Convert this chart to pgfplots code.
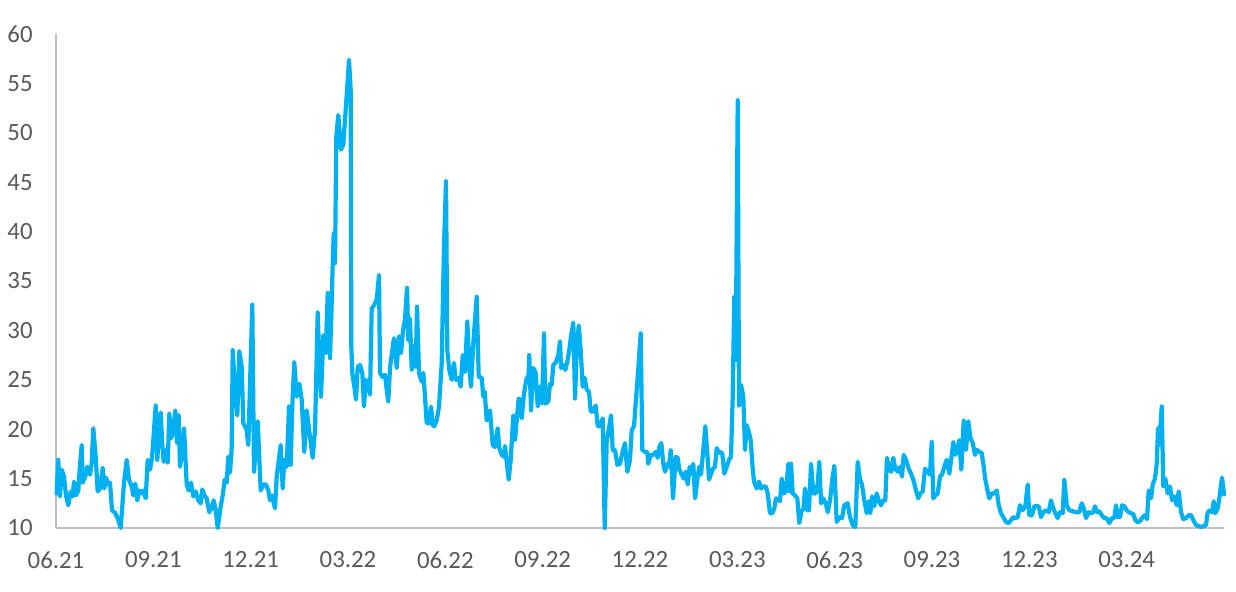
\documentclass[border=0pt]{standalone}
\usepackage{pgfplots}
\pgfplotsset{compat=1.18}
\usepackage{fontspec}
\setmainfont{Carlito}
\definecolor{lineblue}{HTML}{00B0F0}
\definecolor{axgray}{HTML}{BFBFBF}
\definecolor{txtgray}{HTML}{595959}
\begin{document}
\begin{tikzpicture}
\useasboundingbox (0,0) rectangle (618pt,295.5pt);
\begin{axis}[
  at={(28pt,31.5pt)}, anchor=south west,
  scale only axis, width=584pt, height=247pt,
  xmin=56, xmax=1224, ymin=10, ymax=60,
  axis x line=bottom, axis y line=left,
  axis line style={-, draw=axgray, line width=0.75pt},
  xtick={56,153.33,250.67,348,445.33,542.67,640,737.33,834.67,932,1029.33,1126.67},
  xticklabels={06.21,09.21,12.21,03.22,06.22,09.22,12.22,03.23,06.23,09.23,12.23,03.24},
  ytick={10,15,...,60},
  major tick length=0pt,
  tick label style={font=\fontsize{12.4}{14}\selectfont, text=txtgray},
  /pgf/number format/assume math mode=true,
  xticklabel style={anchor=north, inner sep=0pt, yshift=-11.5pt},
  yticklabel style={anchor=east, inner sep=0pt, xshift=-11.5pt},
  clip=false,
]
\addplot[lineblue, line width=2.1pt, line join=round, line cap=round, mark=none] table {
x y
56.7 13.5
58.3 16.9
60 13.2
61.7 15.9
64 15.2
66 13.3
68.3 12.3
70.7 13.7
72.7 13.2
74 14.7
76 13.3
78.3 13.8
80 16.4
81.7 18.4
82.7 14.6
85 15.1
87.3 16.2
90 15.4
91.7 16.6
93.3 20.1
95.7 17.2
97.7 13.7
100 14.0
102.7 16.1
104.3 14.0
106 15.1
108.3 14.4
110 14.6
112 11.8
115.3 11.5
118.3 10.8
120.7 10.0
124 14.6
126.7 16.9
129 14.9
131.7 14.2
133.3 13.3
135.3 14.5
137.3 12.8
139.3 13.8
141.7 13.5
143.3 13.8
145.7 13.0
147.7 16.9
150 15.9
152 17.1
154 19.9
155.7 22.4
157.3 16.9
159 19.9
160.7 21.7
162.3 18.4
163.7 16.7
165.7 17.9
167.7 16.6
169.3 21.6
171.3 19.1
173.3 19.9
175.3 21.9
177 18.6
178.7 21.4
180 16.2
182 17.6
184 20.1
186.7 14.4
188.7 13.8
191 14.6
193.3 13.2
195.7 13.7
198.3 12.8
200.7 12.5
202.3 13.9
204.3 13.3
206.7 13.0
209.3 11.6
211.7 12.0
213.7 12.8
215.7 11.8
217.7 10.0
220.7 12.2
222.7 13.3
224.7 14.9
226.7 14.6
228.3 17.2
230 15.6
231.7 18.1
232.7 28.0
235 24.0
237.3 21.4
239.3 27.9
241.7 26.3
243.3 20.6
246.7 19.9
248.3 18.4
252.3 32.6
254 15.7
257.7 20.8
260.7 13.8
263.3 14.4
266 14.4
268.3 13.8
270 12.8
272 13.3
275 12.0
276.7 15.2
280.7 18.4
282.7 14.0
284.3 16.9
286.7 16.2
289 22.3
290.7 16.4
292.3 22.4
294.3 26.8
296.7 23.3
299.3 24.6
301.7 23.0
304.3 17.7
306.7 21.9
310 19.2
312.7 17.1
315 19.9
317.7 31.8
319 28.0
321 23.3
323.3 29.5
325.7 27.7
327.7 33.8
330 27.2
331.7 32.7
332.7 36.8
333.7 39.8
335 36.8
336.3 49.6
338.3 51.8
341 48.3
343.3 48.8
345 51.3
347.7 55.3
349 57.4
350.7 54.3
351.3 28.4
352.3 25.7
354.3 24.3
356 23.0
357.7 26.3
360 26.5
362.3 25.7
364 22.3
365.7 25.0
367.7 24.6
370 23.5
371.7 32.2
374.3 32.6
376.7 33.1
379 35.6
380 25.7
382.3 25.3
385 25.5
386.7 24.0
388.3 22.8
390 26.2
392.3 28.0
394 29.2
396.7 26.2
399 29.4
401 27.7
403 30.0
405 31.1
407 34.3
408.3 29.0
410 31.2
411.7 26.0
413.7 28.4
415.7 26.3
417 32.4
419 25.7
421.7 24.8
423.3 25.7
425 23.3
426.7 20.6
429.3 20.6
431 22.3
432.7 20.4
434.3 20.3
436.7 20.9
439 22.3
441.7 26.7
443.3 35.1
444 38.5
446 45.1
447.3 28.0
449.3 26.0
451.7 25.0
454 26.7
455.7 25.0
458.3 25.2
460.7 24.3
462.7 27.5
465 25.8
467.3 30.9
469.3 26.3
471 24.3
473.3 28.7
476.7 33.4
478.7 25.3
481.7 25.2
483.3 23.3
484.7 23.8
486.7 20.9
488.3 21.0
490 21.9
492.7 18.4
495 18.2
497.7 20.1
499.3 18.1
501.7 17.4
504 17.2
505 18.3
506.7 16.7
508.7 14.9
510.7 16.9
513.3 21.4
515 18.9
516.7 20.9
518.7 23.1
520 23.0
521.7 21.1
524 23.6
526.7 25.2
528.3 25.0
529.3 27.5
531 21.9
533.3 26.2
535.7 25.7
537.7 22.3
540 24.3
542 22.6
544 29.7
545.3 22.6
548.3 22.8
550 24.6
551.7 24.5
553.3 26.5
556 26.8
558.3 27.5
560 28.9
561 26.2
563.3 26.5
565.3 26.0
567.3 26.8
569.3 28.0
571 29.4
573.3 30.8
575 23.1
576.7 28.0
578.7 30.5
580.7 28.0
582.7 24.3
584.7 25.2
586.7 24.0
589 23.8
590.7 21.8
593.3 21.8
595.7 22.4
597.7 20.3
600 20.3
602.7 21.1
604.7 10.0
606.7 18.9
609 20.1
611 21.4
612.7 17.9
615 17.9
617.3 16.4
620 16.5
622.3 17.6
625 18.6
627.3 15.7
630 16.9
631.7 19.9
634 20.3
636.7 24.0
638.7 26.7
640.7 29.7
642.3 17.9
645 17.7
647.3 17.7
648.3 16.5
650.7 17.4
653.3 17.4
655.7 17.7
657.7 17.1
659.3 18.2
661.3 18.6
663.3 16.5
665 15.7
667.3 16.5
669 16.2
670.7 17.9
673 13.0
675.7 17.2
677.7 17.1
679.3 15.9
681.7 15.4
683.7 15.0
685.7 15.7
687.7 14.4
689.7 16.2
691.7 15.5
693.3 16.5
695 13.0
697.7 15.2
699.3 16.2
701 15.4
703.3 17.9
705.3 20.3
707.3 17.6
709 14.9
711 15.5
713 16.0
715 16.2
716.7 18.1
719 17.6
721 17.7
722.3 17.5
724.3 15.5
726.7 16.2
729 16.9
731 17.2
732.7 23.3
734.3 33.4
735.7 27.0
737.7 53.3
739 22.4
741 24.5
743.3 23.3
745 17.9
746.7 20.4
748.3 19.9
750.7 18.9
752.3 16.5
754 14.7
756.7 14.0
759 14.7
761 14.0
763.3 14.2
765.7 14.2
767.7 13.5
770 11.5
772.3 11.5
774.3 12.0
776 13.0
778.3 12.9
780 12.7
781.7 15.0
784 13.5
786 13.7
788.3 16.5
790 13.7
791 16.5
792.7 13.5
795 13.3
797.3 13.0
799.3 10.5
801.7 11.8
803.3 11.8
805 14.0
806.7 11.8
809 11.8
811 16.5
813.3 13.5
815.7 13.5
817.7 14.5
819.3 16.7
821 12.5
823.3 13.0
825.7 12.5
827.7 11.6
830 12.8
832.3 14.9
834.3 16.3
836.7 10.6
839.3 11.1
842 11.0
844.3 12.3
847.7 12.5
850 11.1
852.7 10.3
855.3 10.1
857.7 16.7
860 14.9
862 14.4
864.3 12.8
866.7 11.5
868.7 12.7
870.3 11.5
872 13.2
874.3 12.2
876.7 13.5
878.7 12.8
881 12.3
883.3 12.8
885.3 12.8
887 17.1
889.3 15.9
891.3 15.7
893.3 17.1
895.3 16.0
897.7 15.7
900 16.2
902 15.2
903.7 17.4
906 16.9
908.7 16.0
911 15.5
913.3 14.9
916 13.8
918.3 13.0
920.3 13.5
922.7 13.7
925 16.0
927.7 15.7
930 15.4
931.7 18.7
933.3 13.0
935.3 13.3
937.7 13.5
940 15.2
942 15.4
944.3 16.2
946.7 16.9
949.3 15.5
952 17.6
953.3 18.7
955.3 17.4
957.7 18.1
959.3 18.9
961.3 15.9
963.7 20.9
966 17.9
968.3 20.8
970.3 19.2
972.7 18.6
975 17.4
977 17.9
979.3 17.7
981.7 17.6
983.7 16.2
985.3 14.9
987.7 13.7
989.3 13.0
991.7 13.5
994.3 13.5
996.7 13.8
998.7 12.3
1001 11.5
1003.3 11.1
1006 10.6
1008.7 10.5
1011 10.8
1013.3 11.1
1015.3 11.0
1017.7 11.1
1020 12.3
1022.7 11.8
1025.3 12.2
1027.7 14.4
1029.3 11.3
1032 11.3
1034.3 12.2
1036.7 12.2
1038.7 12.2
1041 11.1
1043.3 11.6
1046 11.8
1048.7 11.6
1051 12.8
1053.3 12.0
1055.3 11.5
1057.7 11.0
1060 11.6
1062.7 11.5
1064.3 14.9
1066.7 12.3
1069.3 11.8
1072.7 11.7
1076 11.6
1079.3 11.6
1081.7 12.5
1083.7 12.0
1086 11.0
1088.7 11.6
1091 11.5
1093.3 11.6
1095 12.2
1097 11.6
1099.3 11.7
1101.7 11.3
1104.3 11.0
1106.7 11.0
1109.3 10.5
1112 11.0
1114.3 11.0
1116 12.3
1117.7 11.1
1120 11.1
1122 12.3
1124.3 12.2
1126.7 11.8
1128.7 11.6
1131 11.5
1133.3 11.4
1135.3 10.8
1137.7 10.6
1140 10.7
1142.7 11.1
1145 11.3
1147 10.9
1148.7 13.8
1151 13.0
1152.7 14.4
1155 15.0
1156.7 16.5
1158 20.1
1159.3 18.4
1161.7 22.3
1163.3 14.2
1165.3 15.0
1167.7 13.5
1170 14.2
1172 12.8
1174.3 13.2
1176.7 12.3
1178.7 13.7
1181 11.6
1183.3 10.9
1186 11.0
1188.7 11.3
1191 11.3
1193.3 10.8
1196 10.3
1198.7 10.2
1201 10.1
1203.7 10.2
1206 10.3
1207.7 11.6
1210 11.8
1212 11.6
1213.7 12.7
1215.3 11.5
1217.7 12.0
1219.3 13.0
1222 15.1
1224 13.4
};
\end{axis}
\end{tikzpicture}
\end{document}
